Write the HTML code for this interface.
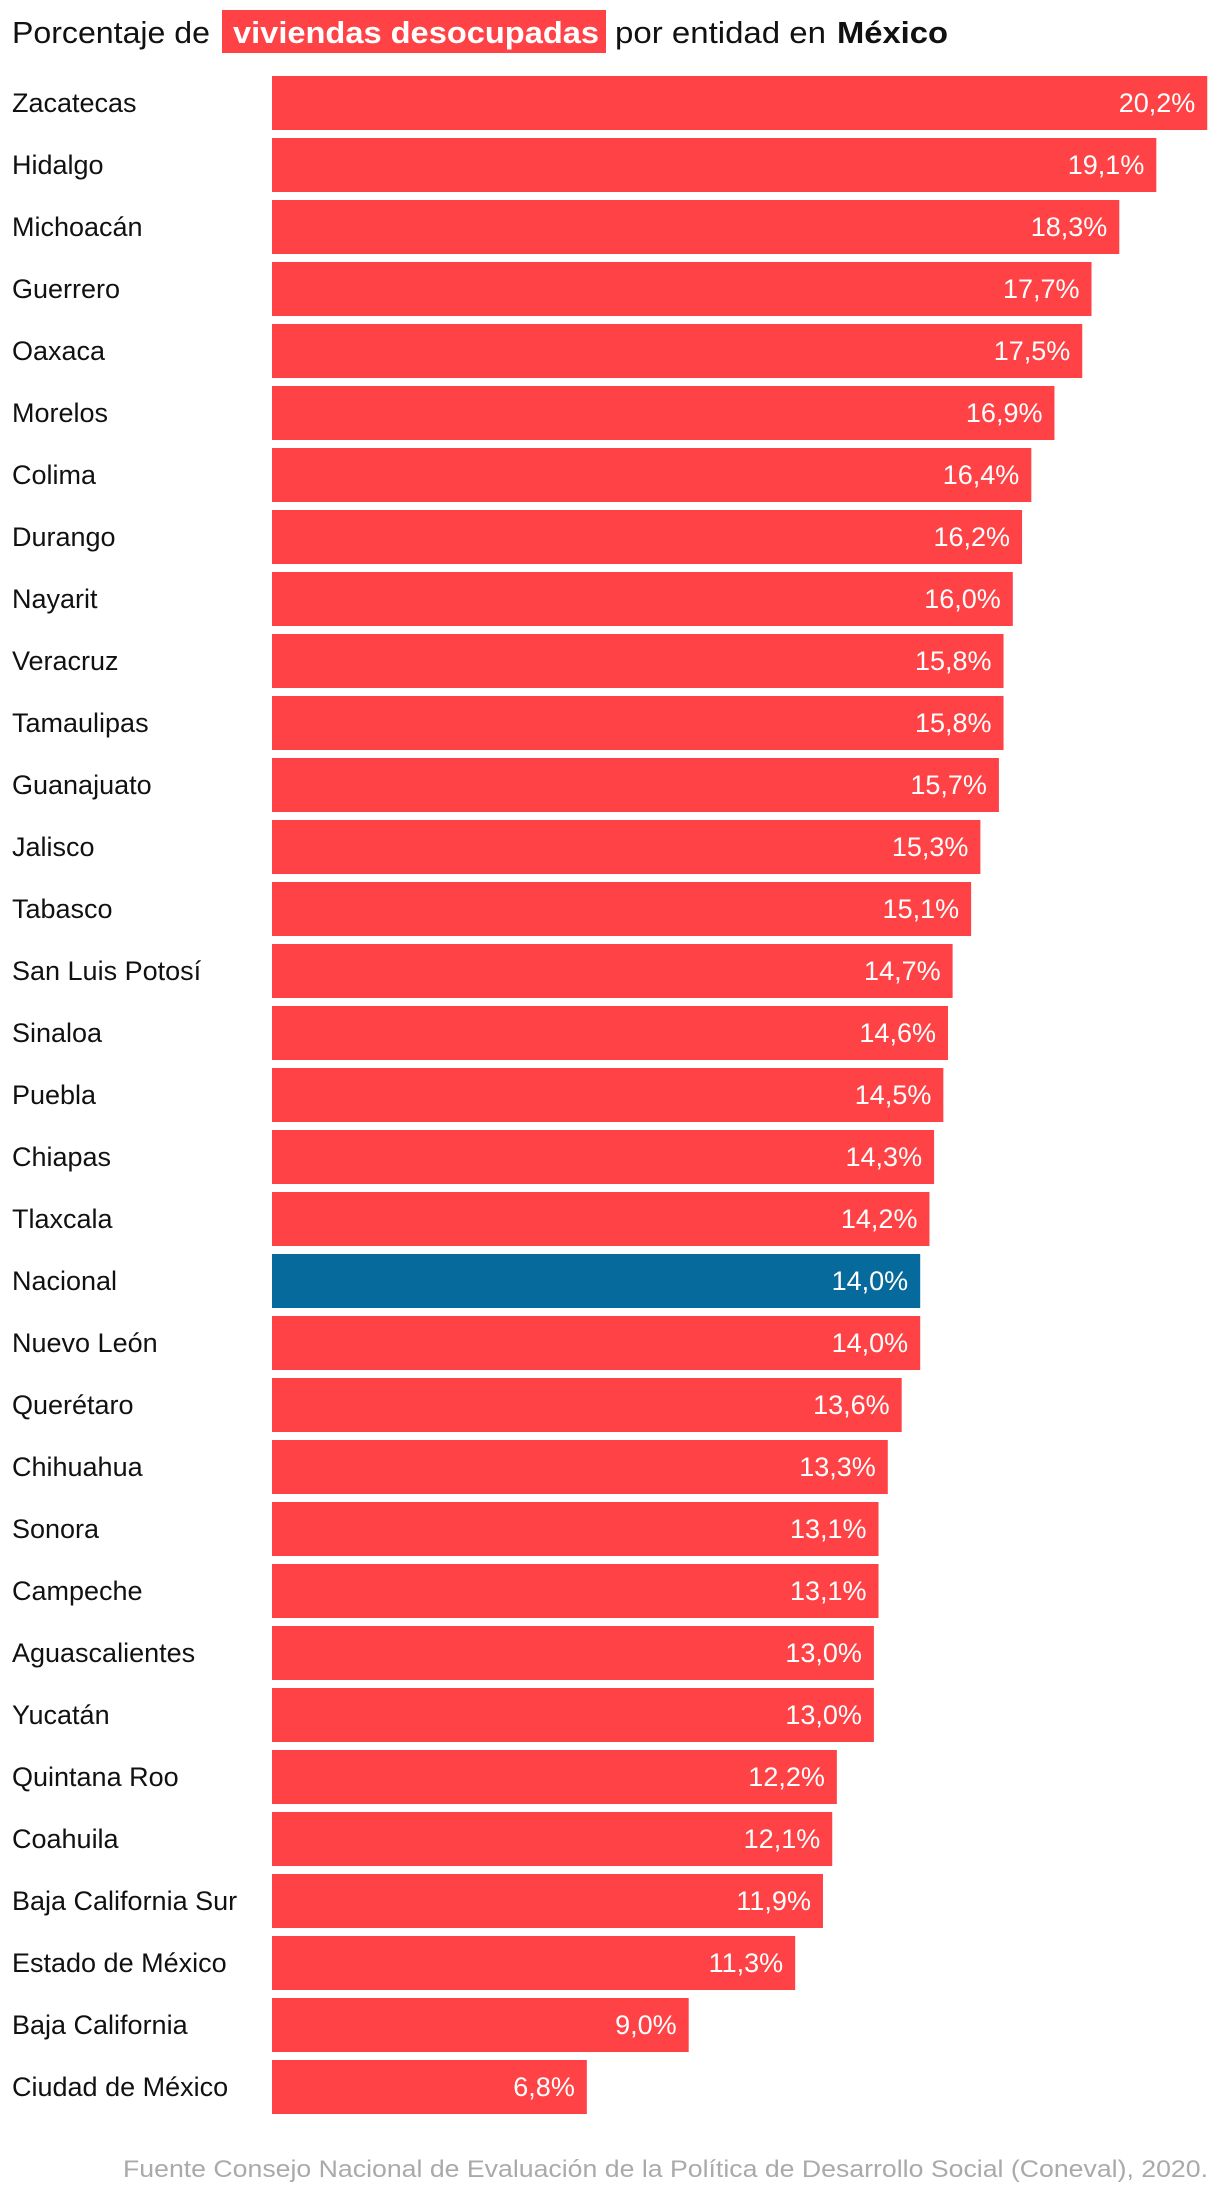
<!DOCTYPE html>
<html><head><meta charset="utf-8"><style>
html,body{margin:0;padding:0;background:#fff;}
svg{display:block;font-family:"Liberation Sans",sans-serif;}
</style></head><body>
<svg id="chart" width="1220" height="2198" viewBox="0 0 1220 2198">
<g>
<rect x="222" y="10" width="384" height="43" fill="#FF4245"/>
<text x="12" y="43" font-size="31" fill="#111" textLength="198" lengthAdjust="spacingAndGlyphs">Porcentaje de</text>
<text x="233" y="43" font-size="31" font-weight="bold" fill="#fff" textLength="366" lengthAdjust="spacingAndGlyphs">viviendas desocupadas</text>
<text x="615" y="43" font-size="31" fill="#111" textLength="211" lengthAdjust="spacingAndGlyphs">por entidad en</text>
<text x="837" y="43" font-size="31" font-weight="bold" fill="#111" textLength="111" lengthAdjust="spacingAndGlyphs">México</text>
</g>
<g id="bars"></g>
<text x="1208" y="2177" text-anchor="end" font-size="24" fill="#aaa" textLength="1085" lengthAdjust="spacingAndGlyphs">Fuente Consejo Nacional de Evaluación de la Política de Desarrollo Social (Coneval), 2020.</text>
</svg>
<script>
const categories=["Zacatecas","Hidalgo","Michoacán","Guerrero","Oaxaca","Morelos","Colima","Durango","Nayarit","Veracruz","Tamaulipas","Guanajuato","Jalisco","Tabasco","San Luis Potosí","Sinaloa","Puebla","Chiapas","Tlaxcala","Nacional","Nuevo León","Querétaro","Chihuahua","Sonora","Campeche","Aguascalientes","Yucatán","Quintana Roo","Coahuila","Baja California Sur","Estado de México","Baja California","Ciudad de México"];
const values=[20.2,19.1,18.3,17.7,17.5,16.9,16.4,16.2,16.0,15.8,15.8,15.7,15.3,15.1,14.7,14.6,14.5,14.3,14.2,14.0,14.0,13.6,13.3,13.1,13.1,13.0,13.0,12.2,12.1,11.9,11.3,9.0,6.8];
const highlight=["Nacional"];
const NS="http://www.w3.org/2000/svg";
const g=document.getElementById('bars');
const x0=272, pxPerUnit=46.3, y0=76, pitch=62, bh=54;
const xScale=v=>v*pxPerUnit;
const yScale=i=>y0+i*pitch;
categories.forEach((c,i)=>{
  const v=values[i], y=yScale(i), w=xScale(v);
  const lab=document.createElementNS(NS,'text');
  
  
  lab.setAttribute('x',12);lab.setAttribute('y',y+bh/2+9);
  lab.setAttribute('font-size','27');lab.setAttribute('fill','#111');
  lab.textContent=c;g.appendChild(lab);
  const r=document.createElementNS(NS,'rect');
  
  
  r.setAttribute('x',x0);r.setAttribute('y',y);r.setAttribute('width',w);r.setAttribute('height',bh);
  r.setAttribute('fill',highlight.includes(c)?'#066A9C':'#FF4245');
  g.appendChild(r);
  const t=document.createElementNS(NS,'text');
  
  
  t.setAttribute('x',x0+w-12);t.setAttribute('y',y+bh/2+9);
  t.setAttribute('text-anchor','end');t.setAttribute('font-size','27');t.setAttribute('fill','#fff');
  t.textContent=v.toFixed(1).replace('.',',')+'%';g.appendChild(t);
});
</script>
</body></html>
